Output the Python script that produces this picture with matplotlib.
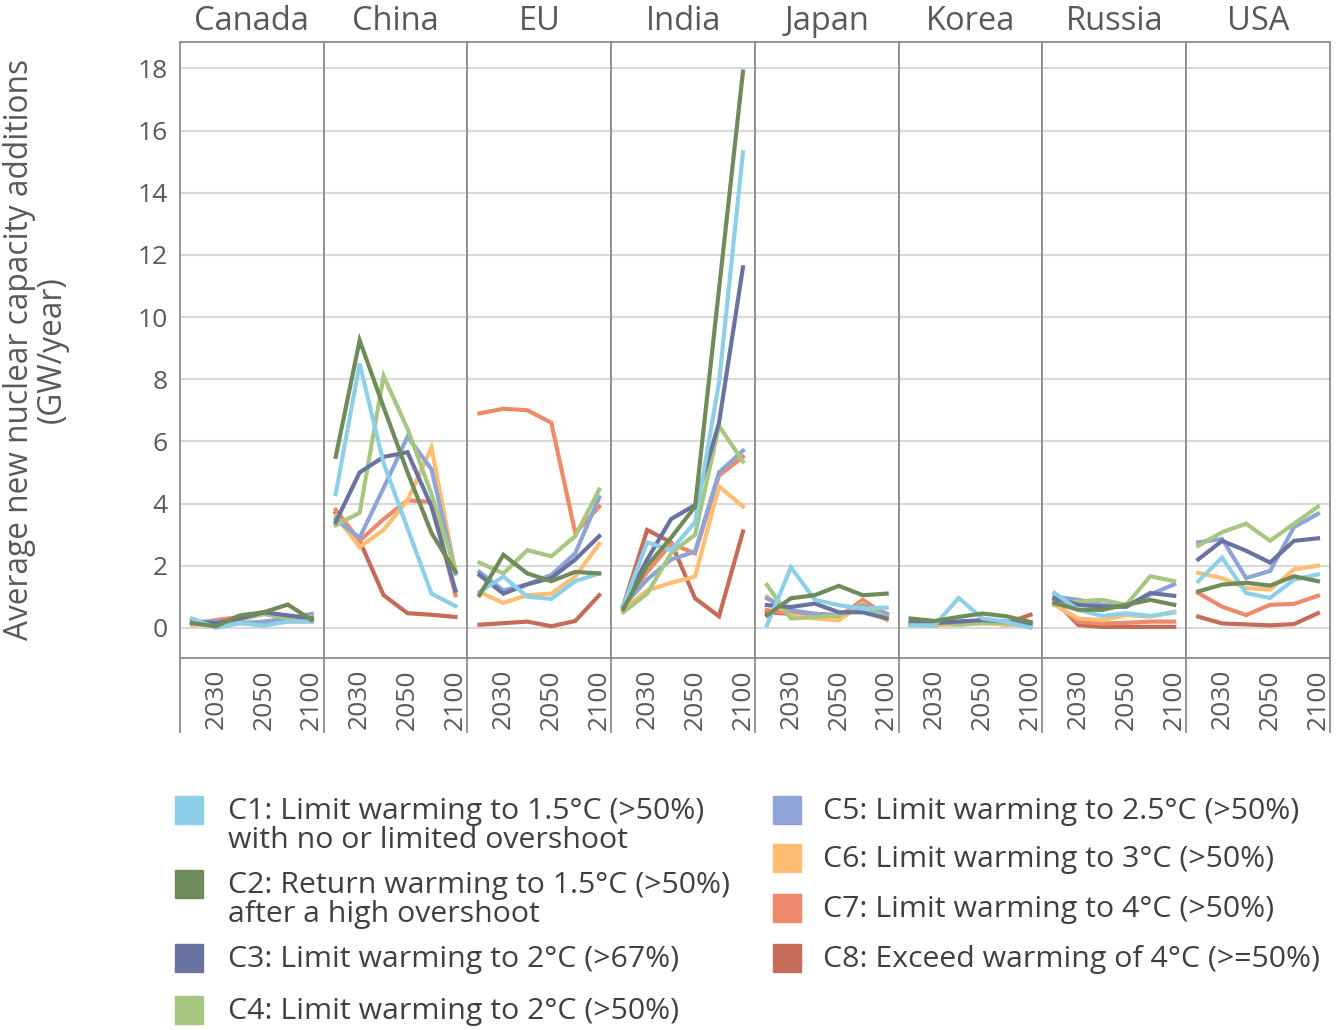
import matplotlib
matplotlib.use('Agg')
import matplotlib.pyplot as plt
from matplotlib.patches import Rectangle

plt.rcParams['font.family'] = ['Open Sans', 'DejaVu Sans']

# categories along each country panel (only every second one is labelled)
years = ['2025', '2030', '2040', '2050', '2070', '2100']
countries = ['Canada', 'China', 'EU', 'India', 'Japan', 'Korea', 'Russia', 'USA']

scenarios = [
    'C1: Limit warming to 1.5°C (>50%)\nwith no or limited overshoot',
    'C2: Return warming to 1.5°C (>50%)\nafter a high overshoot',
    'C3: Limit warming to 2°C (>67%)',
    'C4: Limit warming to 2°C (>50%)',
    'C5: Limit warming to 2.5°C (>50%)',
    'C6: Limit warming to 3°C (>50%)',
    'C7: Limit warming to 4°C (>50%)',
    'C8: Exceed warming of 4°C (>=50%)',
]
colors = ['#8DCFE8', '#6F8B5A', '#6A72A0', '#A6C77F',
          '#8EA3D6', '#FDBE74', '#EE8A6A', '#C56B58']

# GW/year, one row per scenario C1..C8
canada = [
    [0.3, 0.0, 0.15, 0.07, 0.2, 0.2],
    [0.15, 0.05, 0.4, 0.5, 0.75, 0.25],
    [0.2, 0.15, 0.3, 0.5, 0.4, 0.3],
    [0.2, 0.15, 0.25, 0.45, 0.3, 0.35],
    [0.2, 0.2, 0.15, 0.2, 0.3, 0.45],
    [0.1, 0.1, 0.15, 0.15, 0.2, 0.2],
    [0.1, 0.25, 0.35, 0.5, 0.35, 0.3],
    [0.1, 0.2, 0.3, 0.45, 0.35, 0.3],
]
china = [
    [4.3, 8.5, 5.3, 3.2, 1.1, 0.7],
    [5.5, 9.25, 7.1, 5.0, 3.05, 1.8],
    [3.4, 5.0, 5.5, 5.65, 3.9, 1.2],
    [3.3, 3.7, 8.1, 6.4, 4.3, 1.85],
    [3.5, 2.9, 4.5, 6.15, 5.1, 1.75],
    [3.6, 2.6, 3.15, 4.1, 5.8, 1.8],
    [3.8, 2.8, 3.5, 4.1, 4.05, 1.05],
    [3.7, 2.8, 1.05, 0.47, 0.42, 0.35],
]
eu = [
    [1.15, 1.65, 1.0, 0.93, 1.5, 1.75],
    [1.05, 2.35, 1.75, 1.5, 1.8, 1.75],
    [1.7, 1.1, 1.4, 1.6, 2.2, 2.95],
    [2.1, 1.75, 2.5, 2.3, 2.95, 4.45],
    [1.8, 1.2, 1.4, 1.7, 2.4, 4.2],
    [1.15, 0.8, 1.05, 1.1, 1.65, 2.7],
    [6.9, 7.05, 7.0, 6.6, 3.05, 3.9],
    [0.1, 0.15, 0.2, 0.05, 0.22, 1.05],
]
india = [
    [0.7, 2.75, 2.5, 3.4, 7.9, 15.3],
    [0.6, 2.0, 2.9, 3.9, 10.9, 17.9],
    [0.7, 2.2, 3.5, 3.95, 6.6, 11.6],
    [0.5, 1.1, 2.4, 3.0, 6.5, 5.35],
    [0.7, 1.55, 2.2, 2.45, 5.0, 5.7],
    [0.6, 1.2, 1.45, 1.65, 4.55, 3.9],
    [0.7, 1.8, 2.7, 2.4, 4.9, 5.5],
    [0.7, 3.15, 2.75, 0.95, 0.37, 3.1],
]
japan = [
    [0.08, 1.95, 0.9, 0.73, 0.62, 0.65],
    [0.4, 0.95, 1.05, 1.35, 1.05, 1.1],
    [0.73, 0.67, 0.78, 0.5, 0.5, 0.3],
    [1.38, 0.3, 0.35, 0.4, 0.67, 0.35],
    [0.95, 0.57, 0.45, 0.4, 0.73, 0.45],
    [1.0, 0.4, 0.3, 0.24, 0.78, 0.24],
    [0.57, 0.45, 0.4, 0.35, 0.9, 0.4],
    [0.5, 0.45, 0.45, 0.4, 0.78, 0.45],
]
korea = [
    [0.08, 0.08, 0.96, 0.3, 0.19, 0.0],
    [0.3, 0.22, 0.35, 0.46, 0.37, 0.19],
    [0.2, 0.15, 0.2, 0.25, 0.2, 0.15],
    [0.15, 0.2, 0.1, 0.15, 0.15, 0.1],
    [0.15, 0.15, 0.2, 0.2, 0.15, 0.15],
    [0.1, 0.1, 0.1, 0.15, 0.1, 0.1],
    [0.1, 0.1, 0.15, 0.2, 0.1, 0.15],
    [0.1, 0.08, 0.15, 0.2, 0.15, 0.42],
]
russia = [
    [1.12, 0.58, 0.38, 0.47, 0.38, 0.49],
    [0.8, 0.58, 0.58, 0.74, 0.9, 0.74],
    [0.95, 0.74, 0.68, 0.68, 1.12, 1.03],
    [0.74, 0.85, 0.9, 0.74, 1.66, 1.5],
    [1.0, 0.9, 0.74, 0.68, 1.07, 1.4],
    [0.74, 0.3, 0.25, 0.41, 0.36, 0.52],
    [0.8, 0.2, 0.14, 0.16, 0.2, 0.2],
    [0.9, 0.09, 0.03, 0.03, 0.03, 0.03],
]
usa = [
    [1.5, 2.26, 1.12, 0.96, 1.55, 1.72],
    [1.17, 1.39, 1.45, 1.36, 1.66, 1.5],
    [2.2, 2.8, 2.48, 2.1, 2.8, 2.88],
    [2.64, 3.08, 3.35, 2.8, 3.35, 3.9],
    [2.75, 2.86, 1.6, 1.83, 3.24, 3.67],
    [1.77, 1.6, 1.28, 1.23, 1.88, 2.0],
    [1.12, 0.68, 0.41, 0.74, 0.77, 1.03],
    [0.36, 0.14, 0.11, 0.08, 0.12, 0.47],
]
panels = [canada, china, eu, india, japan, korea, russia, usa]

spine_col = '#8C8C8C'
text_col = '#595959'

fig = plt.figure(figsize=(13.4, 10.3), dpi=100)
axes = fig.subplots(1, 8, sharey=True, gridspec_kw=dict(wspace=0))
fig.subplots_adjust(left=0.1343, right=0.9925, top=0.9592, bottom=0.3612)

# draw order: C1 and C2 end up on top
order = [7, 6, 5, 4, 3, 2, 0, 1]
x = list(range(len(years)))

for i, (ax, name, data) in enumerate(zip(axes, countries, panels)):
    for z, k in enumerate(order):
        ax.plot(x, data[k], color=colors[k], lw=3.0, zorder=3 + z,
                solid_joinstyle='miter')
    ax.set_xlim(-0.5, len(years) - 0.5)
    ax.set_ylim(-0.97, 18.85)
    ax.set_yticks(range(0, 19, 2))
    ax.set_xticks(x[1::2])
    ax.set_xticklabels(years[1::2], rotation=90)
    ax.grid(axis='y', color='#D9D9D9', lw=1.5)
    ax.set_axisbelow(True)
    ax.tick_params(length=0, labelsize=19, colors=text_col)
    ax.tick_params(axis='x', pad=8)
    ax.tick_params(axis='y', pad=9)
    for s in ax.spines.values():
        s.set_color(spine_col)
        s.set_linewidth(1.3)
    # group separators running down through the year labels
    ax.plot([0, 0], [0, -0.12], transform=ax.transAxes, clip_on=False,
            color=spine_col, lw=1.3)
    if i == len(axes) - 1:
        ax.plot([1, 1], [0, -0.12], transform=ax.transAxes, clip_on=False,
                color=spine_col, lw=1.3)
    ax.text(0.5, 1.033, name, transform=ax.transAxes, ha='center',
            va='center', fontsize=23.5, color=text_col)

fig.text(0.027, 0.661, 'Average new nuclear capacity additions\n(GW/year)',
         rotation=90, ha='center', va='center', multialignment='center',
         fontsize=22.8, color=text_col, linespacing=1.0)

# legend, two columns of square swatches
W, H = 1340.0, 1030.0
legend_rows = [(175, 228, 810), (175, 228, 884), (175, 228, 958), (175, 228, 1010),
               (773, 823, 810), (773, 823, 858), (773, 823, 908), (773, 823, 958)]
for k, (px, tx, cy) in enumerate(legend_rows):
    fig.patches.append(Rectangle((px / W, 1 - (cy + 14) / H), 28 / W, 28 / H,
                                 transform=fig.transFigure, color=colors[k]))
    fig.text(tx / W, 1 - (cy - 13) / H, scenarios[k], ha='left', va='top',
             fontsize=21.8, color='#404040', linespacing=0.98)

fig.savefig('out.png', dpi=100)
